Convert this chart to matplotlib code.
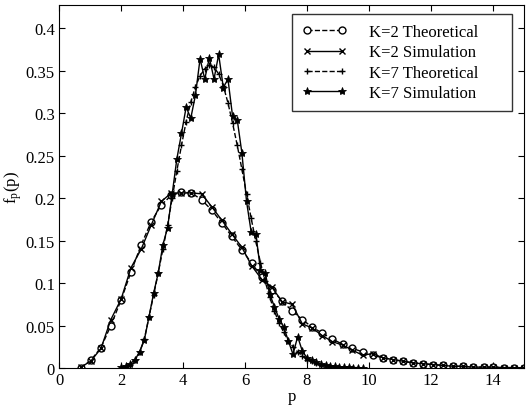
import numpy as np
import matplotlib
matplotlib.use("Agg")
import matplotlib.pyplot as plt

plt.rcParams["font.family"] = ["Liberation Serif", "DejaVu Serif"]
plt.rcParams["mathtext.fontset"] = "stix"

# K=2 theoretical / simulation (same grid)
p_k2 = [0.70, 1.02, 1.35, 1.67, 2.00, 2.32, 2.65, 2.97, 3.30, 3.62, 3.95, 4.27,
        4.60, 4.92, 5.25, 5.57, 5.90, 6.22, 6.55, 6.87, 7.20, 7.52, 7.85, 8.17,
        8.50, 8.82, 9.15, 9.47, 9.80, 10.12, 10.45, 10.77, 11.10, 11.42, 11.75,
        12.07, 12.40, 12.72, 13.05, 13.37, 13.70, 14.02, 14.35, 14.67, 15.00]
f_k2_theo = [0.000, 0.009, 0.024, 0.050, 0.080, 0.113, 0.145, 0.172, 0.192, 0.203,
             0.207, 0.206, 0.198, 0.186, 0.171, 0.155, 0.139, 0.123, 0.107, 0.092,
             0.079, 0.067, 0.057, 0.048, 0.041, 0.034, 0.028, 0.023, 0.019, 0.015,
             0.012, 0.010, 0.008, 0.006, 0.005, 0.004, 0.003, 0.002, 0.002, 0.001,
             0.001, 0.001, 0.0005, 0.0004, 0.0003]
f_k2_sim = [0.001, 0.008, 0.023, 0.057, 0.081, 0.118, 0.140, 0.168, 0.196, 0.206,
            0.206, 0.206, 0.205, 0.190, 0.174, 0.158, 0.142, 0.120, 0.104, 0.095,
            0.078, 0.075, 0.052, 0.047, 0.038, 0.031, 0.027, 0.021, 0.015, 0.017,
            0.012, 0.010, 0.008, 0.006, 0.005, 0.004, 0.003, 0.002, 0.002, 0.001,
            0.001, 0.001, 0.0005, 0.0004, 0.0003]

# K=7 theoretical / simulation
p_k7 = [2.00, 2.15, 2.30, 2.45, 2.60, 2.75, 2.90, 3.05, 3.20, 3.35, 3.50, 3.65,
        3.80, 3.95, 4.10, 4.25, 4.40, 4.55, 4.70, 4.85, 5.00, 5.15, 5.30, 5.45,
        5.60, 5.75, 5.90, 6.05, 6.20, 6.35, 6.50, 6.65, 6.80, 6.95, 7.10, 7.25,
        7.40, 7.55, 7.70, 7.85, 8.00, 8.15, 8.30, 8.45, 8.60, 8.75, 8.90, 9.05,
        9.20, 9.35, 9.50, 9.65, 9.80]
f_k7_theo = [0.000, 0.002, 0.004, 0.009, 0.019, 0.034, 0.060, 0.086, 0.112, 0.140,
             0.168, 0.200, 0.232, 0.262, 0.290, 0.313, 0.331, 0.344, 0.352, 0.356,
             0.354, 0.346, 0.332, 0.312, 0.288, 0.262, 0.234, 0.205, 0.176, 0.149,
             0.124, 0.102, 0.083, 0.067, 0.053, 0.042, 0.032, 0.025, 0.019, 0.014,
             0.010, 0.008, 0.006, 0.004, 0.003, 0.002, 0.0015, 0.001, 0.0007,
             0.0005, 0.0003, 0.0002, 0.0001]
f_k7_sim = [0.001, 0.002, 0.005, 0.010, 0.019, 0.033, 0.060, 0.088, 0.112, 0.145,
            0.165, 0.205, 0.246, 0.276, 0.307, 0.294, 0.321, 0.364, 0.340, 0.365,
            0.340, 0.369, 0.330, 0.340, 0.296, 0.292, 0.253, 0.196, 0.160, 0.158,
            0.115, 0.112, 0.087, 0.072, 0.058, 0.048, 0.032, 0.016, 0.037, 0.020,
            0.012, 0.010, 0.007, 0.005, 0.003, 0.002, 0.002, 0.001, 0.001, 0.001,
            0.0005, 0.0005, 0.0003]

fig = plt.figure(figsize=(5.28, 4.10), dpi=100)
ax = fig.add_axes([0.112, 0.10, 0.880, 0.885])

ax.plot(p_k2, f_k2_theo, "k--", lw=1.0, marker="o", ms=5, mfc="white",
        mew=1.0, label="K=2 Theoretical")
ax.plot(p_k2, f_k2_sim, "k-", lw=1.0, marker="x", ms=4, mew=1.0,
        label="K=2 Simulation")
ax.plot(p_k7, f_k7_theo, "k--", lw=1.0, marker="+", ms=5, mew=1.0,
        label="K=7 Theoretical")
ax.plot(p_k7, f_k7_sim, "k-", lw=1.0, marker="*", ms=6, mew=0.6,
        label="K=7 Simulation")

ax.set_xlim(0, 15)
ax.set_ylim(0, 0.427)
ax.set_xticks([0, 2, 4, 6, 8, 10, 12, 14])
ax.set_yticks([0, 0.05, 0.1, 0.15, 0.2, 0.25, 0.3, 0.35, 0.4])
ax.set_yticklabels(["0", "0.05", "0.1", "0.15", "0.2", "0.25", "0.3", "0.35", "0.4"])
ax.tick_params(direction="in", top=True, right=True, length=4, labelsize=12, pad=3)
ax.set_xlabel("p", fontsize=12, labelpad=0)
ax.set_ylabel(r"f$_\mathregular{p}$(p)", fontsize=12, labelpad=1)

leg = ax.legend(loc="upper left", fontsize=12, frameon=True, fancybox=False,
                edgecolor="black", numpoints=2, handlelength=2.7,
                handletextpad=1.35, borderpad=0.6, labelspacing=0.25,
                borderaxespad=0, mode="expand",
                bbox_to_anchor=(0.501, 0.70, 0.473, 0.275))
leg.get_frame().set_linewidth(1.0)

fig.savefig("out.png", dpi=100)
